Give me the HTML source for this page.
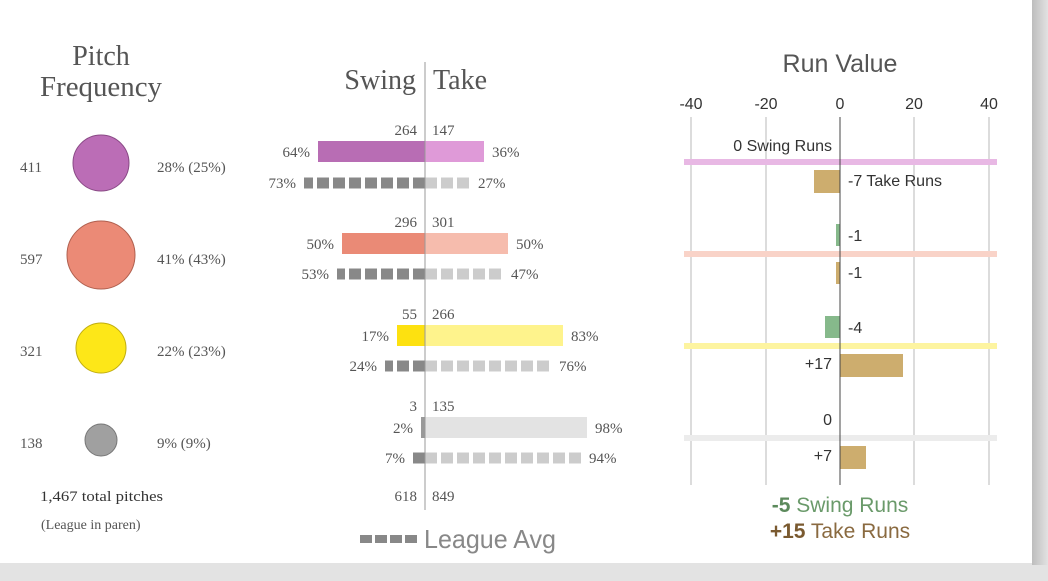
<!DOCTYPE html>
<html><head><meta charset="utf-8"><style>
body{margin:0;width:1048px;height:581px;overflow:hidden;background:#d8d8d8;}
svg{display:block}
.s{font-family:"Liberation Serif",serif;fill:#555}
.r{font-family:"Liberation Sans Narrow","Liberation Sans",sans-serif;fill:#333}
</style></head><body>
<svg width="1048" height="581" xmlns="http://www.w3.org/2000/svg">
<defs><linearGradient id="g" x1="0" x2="1"><stop offset="0" stop-color="#bdbdbd"/><stop offset="1" stop-color="#e2e2e2"/></linearGradient></defs>
<rect x="0" y="0" width="1048" height="581" fill="#e3e3e3"/>
<rect x="1032" y="0" width="16" height="565" fill="url(#g)"/>
<rect x="0" y="0" width="1032" height="563" fill="#fff"/>
<!-- Pitch frequency -->
<text class="s" x="101" y="65" font-size="28" text-anchor="middle">Pitch</text>
<text class="s" x="101" y="96" font-size="28" text-anchor="middle" textLength="122" lengthAdjust="spacingAndGlyphs">Frequency</text>
<g class="s" font-size="15">
<text x="20" y="172">411</text><text x="157" y="172">28% (25%)</text>
<text x="20" y="264">597</text><text x="157" y="264">41% (43%)</text>
<text x="20" y="356">321</text><text x="157" y="356">22% (23%)</text>
<text x="20" y="448">138</text><text x="157" y="448">9% (9%)</text>
<text x="40" y="501" fill="#333" textLength="123" lengthAdjust="spacingAndGlyphs">1,467 total pitches</text>
<text x="41" y="529" font-size="14">(League in paren)</text>
</g>
<circle cx="101" cy="163" r="28" fill="#bb6db6" stroke="#8a4a86"/>
<circle cx="101" cy="255" r="34" fill="#eb8a76" stroke="#b0604f"/>
<circle cx="101" cy="348" r="25" fill="#fde718" stroke="#c0ad10"/>
<circle cx="101" cy="440" r="16" fill="#a0a0a0" stroke="#777"/>
<!-- swing take -->
<text class="s" x="416" y="89" font-size="28" text-anchor="end">Swing</text>
<text class="s" x="433" y="89" font-size="28">Take</text>
<rect x="318" y="141" width="107" height="21" fill="#b86db4"/><rect x="425" y="141" width="59" height="21" fill="#df9ad8"/>
<rect x="342" y="233" width="83" height="21" fill="#ea8a76"/><rect x="425" y="233" width="83" height="21" fill="#f6bcad"/>
<rect x="397" y="325" width="28" height="21" fill="#fde110"/><rect x="425" y="325" width="138" height="21" fill="#fef38c"/>
<rect x="421" y="417" width="4" height="21" fill="#999"/><rect x="425" y="417" width="162" height="21" fill="#e3e3e3"/>
<g stroke-width="11" stroke-dasharray="12 4">
<line x1="425" y1="183" x2="304" y2="183" stroke="#888"/><line x1="425" y1="183" x2="470" y2="183" stroke="#ccc"/>
<line x1="425" y1="274" x2="337" y2="274" stroke="#888"/><line x1="425" y1="274" x2="503" y2="274" stroke="#ccc"/>
<line x1="425" y1="366" x2="385" y2="366" stroke="#888"/><line x1="425" y1="366" x2="551" y2="366" stroke="#ccc"/>
<line x1="425" y1="458" x2="413" y2="458" stroke="#888"/><line x1="425" y1="458" x2="581" y2="458" stroke="#ccc"/>
</g>
<line x1="425" y1="62" x2="425" y2="510" stroke="#999" stroke-width="1"/>
<g class="s" font-size="15">
<text x="417" y="135" text-anchor="end">264</text><text x="432" y="135">147</text>
<text x="310" y="157" text-anchor="end">64%</text><text x="492" y="157">36%</text>
<text x="296" y="188" text-anchor="end">73%</text><text x="478" y="188">27%</text>
<text x="417" y="227" text-anchor="end">296</text><text x="432" y="227">301</text>
<text x="334" y="249" text-anchor="end">50%</text><text x="516" y="249">50%</text>
<text x="329" y="279" text-anchor="end">53%</text><text x="511" y="279">47%</text>
<text x="417" y="319" text-anchor="end">55</text><text x="432" y="319">266</text>
<text x="389" y="341" text-anchor="end">17%</text><text x="571" y="341">83%</text>
<text x="377" y="371" text-anchor="end">24%</text><text x="559" y="371">76%</text>
<text x="417" y="411" text-anchor="end">3</text><text x="432" y="411">135</text>
<text x="413" y="433" text-anchor="end">2%</text><text x="595" y="433">98%</text>
<text x="405" y="463" text-anchor="end">7%</text><text x="589" y="463">94%</text>
<text x="417" y="501" text-anchor="end">618</text><text x="432" y="501">849</text>
</g>
<line x1="360" y1="539" x2="418" y2="539" stroke="#888" stroke-width="8" stroke-dasharray="12 3"/>
<text class="r" x="424" y="548" font-size="26" style="fill:#888" textLength="132" lengthAdjust="spacingAndGlyphs">League Avg</text>
<!-- run value -->
<text class="r" x="840" y="72" font-size="25" text-anchor="middle" style="fill:#555">Run Value</text>
<g class="r" font-size="16" text-anchor="middle">
<text x="691" y="109">-40</text><text x="766" y="109">-20</text><text x="840" y="109">0</text><text x="914" y="109">20</text><text x="989" y="109">40</text>
</g>
<g stroke="#d0d0d0" stroke-width="1.5">
<line x1="691" y1="117" x2="691" y2="485"/><line x1="766" y1="117" x2="766" y2="485"/><line x1="914" y1="117" x2="914" y2="485"/><line x1="989" y1="117" x2="989" y2="485"/>
</g>
<rect x="684" y="159" width="313" height="6" fill="#e8b8e4"/>
<rect x="684" y="251" width="313" height="6" fill="#f9d3c8"/>
<rect x="684" y="343" width="313" height="6" fill="#fdf4a0"/>
<rect x="684" y="435" width="313" height="6" fill="#ececec"/>
<rect x="814" y="170" width="26" height="23" fill="#cdad6e"/>
<rect x="836" y="224" width="4" height="22" fill="#86b98b"/>
<rect x="836" y="262" width="4" height="22" fill="#cdad6e"/>
<rect x="825" y="316" width="15" height="22" fill="#86b98b"/>
<rect x="840" y="354" width="63" height="23" fill="#cdad6e"/>
<rect x="840" y="446" width="26" height="23" fill="#cdad6e"/>
<line x1="840" y1="117" x2="840" y2="485" stroke="#444" stroke-width="1"/>
<g class="r" font-size="16">
<text x="832" y="151" text-anchor="end">0 Swing Runs</text>
<text x="848" y="186">-7 Take Runs</text>
<text x="848" y="241">-1</text><text x="848" y="278">-1</text>
<text x="848" y="333">-4</text><text x="832" y="369" text-anchor="end">+17</text>
<text x="832" y="425" text-anchor="end">0</text><text x="832" y="461" text-anchor="end">+7</text>
</g>
<text class="r" x="840" y="512" font-size="21" text-anchor="middle" style="fill:#6a9a6a"><tspan font-weight="bold" style="fill:#5c8a5c">-5</tspan> Swing Runs</text>
<text class="r" x="840" y="538" font-size="21" text-anchor="middle" style="fill:#8a6a40"><tspan font-weight="bold" style="fill:#7a5a30">+15</tspan> Take Runs</text>
</svg>
</body></html>
